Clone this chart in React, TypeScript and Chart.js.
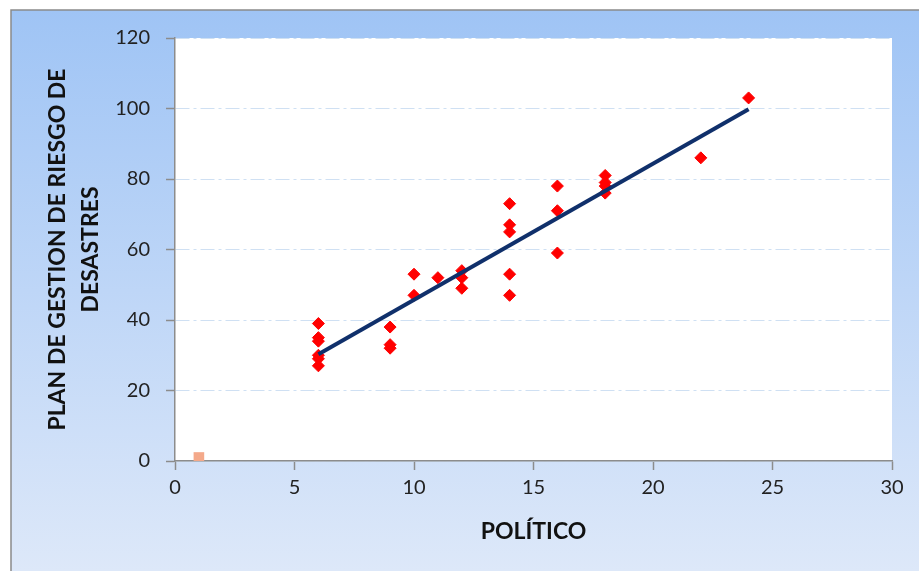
import React, { useEffect, useRef } from "react";
import { Chart, registerables } from "chart.js";

Chart.register(...registerables);

// Data
const politico = [6, 6, 6, 6, 6, 6, 9, 9, 9, 10, 10, 11, 12, 12, 12, 14, 14, 14, 14, 14, 16, 16, 16, 18, 18, 18, 18, 22, 24];
const planGestion = [39, 35, 34, 30, 29, 27, 38, 33, 32, 53, 47, 52, 54, 52, 49, 73, 67, 65, 53, 47, 78, 71, 59, 81, 79, 78, 76, 86, 103];
const extraX = [1];
const extraY = [1];

const xTitle = "POLÍTICO";
const yTitle = ["PLAN DE GESTION DE RIESGO DE", "DESASTRES"];
const xMin = 0, xMax = 30, xStep = 5;
const yMin = 0, yMax = 120, yStep = 20;

function linearFit(xs: number[], ys: number[]) {
  const n = xs.length;
  const mx = xs.reduce((a, b) => a + b, 0) / n;
  const my = ys.reduce((a, b) => a + b, 0) / n;
  let sxy = 0, sxx = 0;
  for (let i = 0; i < n; i++) {
    sxy += (xs[i] - mx) * (ys[i] - my);
    sxx += (xs[i] - mx) * (xs[i] - mx);
  }
  const b = sxy / sxx;
  return { a: my - b * mx, b };
}

const bgPlugin = {
  id: "bgPlugin",
  beforeDraw(chart: any) {
    const { ctx, width, height, chartArea } = chart;
    ctx.save();
    ctx.fillStyle = "#ffffff";
    ctx.fillRect(0, 0, width, height);
    const g = ctx.createLinearGradient(0, 10, 0, height);
    g.addColorStop(0, "#9fc4f5");
    g.addColorStop(1, "#dde8f9");
    ctx.fillStyle = g;
    ctx.fillRect(11, 10, width, height);
    ctx.strokeStyle = "#8a8a8a";
    ctx.lineWidth = 1.5;
    ctx.beginPath();
    ctx.moveTo(11, height + 5);
    ctx.lineTo(11, 10);
    ctx.lineTo(width + 5, 10);
    ctx.stroke();
    ctx.fillStyle = "#ffffff";
    ctx.fillRect(chartArea.left, chartArea.top, chartArea.right - chartArea.left, chartArea.bottom - chartArea.top);
    ctx.restore();
  },
};

export default function App() {
  const ref = useRef<HTMLCanvasElement | null>(null);
  useEffect(() => {
    if (!ref.current) return;
    const fit = linearFit(politico, planGestion);
    const x0 = Math.min(...politico);
    const x1 = Math.max(...politico);
    const chart = new Chart(ref.current, {
      type: "scatter",
      data: {
        datasets: [
          {
            label: "Lineal",
            data: [
              { x: x0, y: fit.a + fit.b * x0 },
              { x: x1, y: fit.a + fit.b * x1 },
            ],
            showLine: true,
            borderColor: "#10306b",
            borderWidth: 4,
            pointRadius: 0,
            order: 0,
          },
          {
            label: "PLAN DE GESTION DE RIESGO DE DESASTRES",
            data: politico.map((x, i) => ({ x, y: planGestion[i] })),
            pointStyle: "rectRot",
            pointRadius: 6,
            backgroundColor: "#ff0000",
            borderColor: "#ff0000",
            borderWidth: 1,
            order: 1,
          },
          {
            label: "Serie 2",
            data: extraX.map((x, i) => ({ x, y: extraY[i] })),
            pointStyle: "rect",
            pointRadius: 7.5,
            backgroundColor: "#f4a98a",
            borderColor: "#f4a98a",
            borderWidth: 0,
            order: 2,
          },
        ],
      },
      options: {
        animation: false,
        responsive: false,
        maintainAspectRatio: false,
        layout: { padding: { left: 0, top: 38, right: 27, bottom: 0 } },
        plugins: { legend: { display: false }, tooltip: { enabled: false } },
        scales: {
          x: {
            type: "linear",
            min: xMin,
            max: xMax,
            afterFit: (s: any) => { s.height = 110; },
            ticks: { stepSize: xStep, color: "#222", font: { family: "Lato", size: 20 }, padding: 6, maxRotation: 0 },
            grid: { drawOnChartArea: false, drawTicks: true, tickLength: 9, tickColor: "#8c8c8c", tickWidth: 1.5 },
            border: { color: "#8c8c8c", width: 1.5 },
            title: {
              display: true,
              text: xTitle,
              color: "#111",
              font: { family: "Lato", size: 23, weight: "bold", lineHeight: 1.2 },
              padding: { top: 0, bottom: 26 },
            },
          },
          y: {
            type: "linear",
            min: yMin,
            max: yMax,
            afterFit: (s: any) => { s.width = 175; },
            ticks: { stepSize: yStep, color: "#222", font: { family: "Lato", size: 20 }, padding: 16 },
            grid: {
              drawOnChartArea: true,
              color: "#cfe0f3",
              lineWidth: 1,
              drawTicks: true,
              tickLength: 9,
              tickColor: "#8c8c8c",
              tickWidth: 1.5,
              tickBorderDash: [],
            },
            border: { color: "#8c8c8c", width: 1.5, dash: [14, 4, 3, 4] },
            title: {
              display: true,
              text: yTitle,
              color: "#111",
              font: { family: "Lato", size: 23, weight: "bold", lineHeight: 1.45 },
              padding: { top: 41, bottom: 0 },
            },
          },
        },
      },
      plugins: [bgPlugin],
    } as any);
    return () => chart.destroy();
  }, []);
  return (
    <div style={{ position: "fixed", left: 0, top: 0, width: 919, height: 571 }}>
      <canvas ref={ref} width={919} height={571} style={{ width: 919, height: 571 }} />
    </div>
  );
}
